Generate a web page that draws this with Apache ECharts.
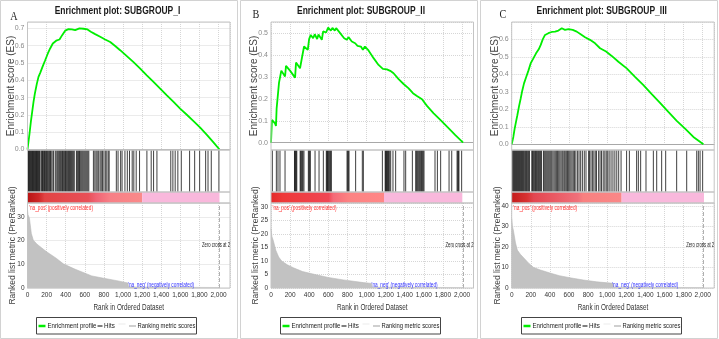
<!DOCTYPE html>
<html>
<head>
<meta charset="utf-8">
<script src="https://cdn.jsdelivr.net/npm/echarts@6.0.0/dist/echarts.min.js"></script>
<style>
  html, body { margin: 0; padding: 0; background: #fff; }
  #chart { width: 719px; height: 339px; }
</style>
</head>
<body>
<div id="chart"></div>
<script>
// ---- data ----
const titles = ['Enrichment plot: SUBGROUP_I', 'Enrichment plot: SUBGROUP_II', 'Enrichment plot: SUBGROUP_III']
const letters = ['A', 'B', 'C']
const legendNames = ['Enrichment profile', 'Hits', 'Ranking metric scores']
const rankMax = 2120

// running enrichment score [rank, ES]
const esA = [[0,0],[21,0.091],[35,0.159],[49,0.217],[63,0.275],[77,0.323],[98,0.381],[115,0.42],[133,0.443],[157,0.478],[185,0.516],[213,0.555],[237,0.584],[265,0.613],[300,0.629],[335,0.636],[363,0.661],[394,0.687],[429,0.696],[464,0.694],[499,0.69],[544,0.7],[586,0.698],[628,0.694],[663,0.681],[708,0.667],[761,0.652],[813,0.636],[866,0.621],[918,0.598],[970,0.574],[1040,0.54],[1110,0.505],[1180,0.468],[1249,0.429],[1319,0.391],[1389,0.352],[1459,0.313],[1529,0.275],[1598,0.236],[1668,0.201],[1738,0.164],[1808,0.126],[1878,0.085],[1947,0.041],[2010,0]]
const esB = [[0,0],[10,0.104],[42,0.088],[52,0.076],[59,0.157],[77,0.149],[84,0.274],[98,0.271],[108,0.329],[147,0.302],[157,0.351],[199,0.329],[252,0.297],[262,0.366],[304,0.34],[325,0.39],[346,0.439],[385,0.424],[399,0.473],[416,0.492],[441,0.477],[458,0.495],[483,0.473],[497,0.494],[532,0.47],[546,0.508],[577,0.503],[598,0.526],[626,0.512],[643,0.524],[668,0.512],[682,0.523],[724,0.5],[766,0.477],[794,0.47],[811,0.482],[846,0.462],[881,0.454],[906,0.442],[941,0.439],[962,0.424],[983,0.439],[1021,0.421],[1074,0.386],[1126,0.355],[1171,0.337],[1213,0.335],[1248,0.328],[1283,0.317],[1336,0.29],[1388,0.268],[1441,0.248],[1486,0.226],[1528,0.213],[1581,0.198],[1633,0.168],[1703,0.134],[1773,0.104],[1843,0.073],[1930,0.035],[2011,0]]
const esC = [[0,0],[17,0.042],[31,0.09],[45,0.128],[59,0.166],[77,0.218],[94,0.262],[108,0.3],[129,0.348],[150,0.382],[175,0.421],[199,0.463],[227,0.491],[255,0.52],[283,0.543],[304,0.568],[325,0.6],[349,0.625],[384,0.635],[419,0.642],[454,0.644],[489,0.65],[524,0.663],[558,0.654],[593,0.658],[639,0.654],[681,0.644],[722,0.629],[768,0.612],[820,0.597],[873,0.577],[925,0.549],[988,0.53],[1047,0.505],[1117,0.472],[1204,0.434],[1291,0.386],[1379,0.338],[1466,0.287],[1553,0.237],[1640,0.185],[1728,0.134],[1815,0.09],[1902,0.042],[2007,0]]

// ranks of gene set members (hits)
const hitsA = [4,10,16,22,28,34,40,46,52,58,64,70,76,82,88,94,100,106,112,118,124,130,143,150,157,164,171,178,186,193,200,208,216,224,232,240,247,258,272,290,300,312,322,332,340,348,358,366,374,382,390,398,406,414,422,430,440,450,460,470,480,490,512,520,528,536,544,552,562,572,582,592,602,612,622,632,642,690,705,718,730,745,760,772,785,800,815,830,845,855,930,948,975,990,1020,1045,1068,1096,1113,1138,1173,1250,1295,1320,1355,1500,1522,1546,1574,1610,1697,1750,1802,1865,1890,1924,2004]
const hitsB = [14,56,73,94,147,246,251,256,265,270,305,311,318,328,335,345,391,398,405,412,461,503,548,579,585,590,596,600,610,618,625,632,796,803,810,817,886,956,967,1166,1195,1200,1206,1211,1218,1224,1230,1242,1253,1277,1305,1392,1410,1480,1515,1522,1532,1541,1550,1558,1567,1576,1585,1594,1602,1717,1742,1776,1864,1892,1948,1955,1962,1968,1996]
const hitsC = [10,17,24,31,38,45,52,59,66,73,80,87,94,101,108,115,122,130,138,146,154,162,170,178,186,210,218,226,234,242,250,258,266,274,282,292,302,312,332,340,350,360,370,380,390,400,410,420,432,444,456,468,480,492,504,516,528,538,550,560,572,584,596,608,620,632,645,658,672,690,705,722,740,760,778,805,815,830,845,860,875,888,910,925,940,958,975,990,1005,1020,1040,1060,1080,1100,1120,1145,1203,1232,1308,1326,1350,1406,1483,1518,1570,1612,1727,1832,1937,1954,1972,1999]

// ranked list metric [rank, score]
const metricA = [[0,33],[5,31],[20,29.5],[40,23],[61,20.2],[100,18.5],[150,16.9],[200,15.3],[300,12.6],[375,10.2],[500,7.9],[673,5.1],[800,4.1],[935,3.1],[1052,2.1],[1058,0.4],[2010,0.2],[2011,0]]
const metricB = [[0,22],[10,19],[24,17.6],[50,14],[80,11.5],[112,10],[170,8.6],[234,7.5],[330,6.1],[461,5],[600,3.9],[757,3],[967,2],[1052,1.7],[1058,0.3],[2010,0.15],[2011,0]]
const metricC = [[0,34],[8,30],[17,28.3],[40,22],[59,18.5],[90,16.5],[130,14.5],[180,12],[230,10],[300,8.8],[401,7.3],[500,6],[610,5],[750,3.9],[890,3],[1060,2.3],[1066,0.4],[2010,0.2],[2011,0]]

// where the red part of the colour bar turns pink, where it ends, zero cross
const bandSplit = [1200, 1183, 1151]
const bandEnd = [2010, 2003, 2013]
const zeroCross = [2010, 2011, 2007]

const esMax = [0.737, 0.551, 0.699]
const metricMax = [35.9, 31.5, 41.5]
const metricStep = [10, 5, 10]

const esData = [esA, esB, esC]
const hitsData = [hitsA, hitsB, hitsC]
const metricData = [metricA, metricB, metricC]

// ---- layout ----
const plotLeft = [27.5, 271, 511.7]
const plotW = 202.5
const esZeroY = [149.5, 142.7, 144.3]
const panelX = [0.5, 240.5, 480.5]
const titleX = [117.5, 361, 601.7]
const letterX = [14, 256, 503]
const letterY = [17, 15, 15]
const esNameX = [11, 254.5, 495]
const metricNameX = [12.5, 256, 497.5]
const legendLeft = [36.5, 280.5, 521.5]

const SANS = '"Liberation Sans", Arial, sans-serif'

const redStops = [
    [[0, '#b81414'], [0.1, '#cf2828'], [0.15, '#e24444'], [0.53, '#e85058'], [0.6, '#f06474'], [0.72, '#f77f86'], [1, '#fa8a8a']],
    [[0, '#e42a2a'], [0.1, '#ee3838'], [0.51, '#f04654'], [0.55, '#f56a78'], [0.69, '#fc8282'], [1, '#ff8787']],
    [[0, '#c41c1c'], [0.14, '#d83232'], [0.2, '#e34650'], [0.6, '#f0707a'], [0.65, '#f88080'], [1, '#fa8888']]
]

const grids = []
const xAxes = []
const yAxes = []
const series = []
const graphic = []

const txt = (x, y, text, font, fill, align, scaleX, rotation) => ({
    type: 'text', silent: true, z: 100, x: x, y: y,
    scaleX: scaleX || 1, rotation: rotation || 0,
    style: { text: text, font: font, fill: fill, align: align, verticalAlign: 'middle' }
})

for (let p = 0; p < 3; p++) {
    const L = plotLeft[p]
    // ES, hits, colour bar, metric
    grids.push({ left: L, top: 22, width: plotW, height: esZeroY[p] - 22 })
    grids.push({ left: L, top: 150, width: plotW, height: 42 })
    grids.push({ left: L, top: 192, width: plotW, height: 11 })
    grids.push({ left: L, top: 203, width: plotW, height: 85 })

    for (let k = 0; k < 4; k++) {
        xAxes.push({
            gridIndex: 4 * p + k,
            type: 'value',
            min: 0,
            max: rankMax,
            interval: 200,
            axisLine: { show: k === 0, lineStyle: { color: '#a8a8a8', width: 1 } },
            axisTick: { show: false },
            axisLabel: k === 3 ? {
                showMaxLabel: false,
                fontSize: 6.5,
                fontFamily: SANS,
                color: '#333',
                margin: 4,
                formatter: v => v.toLocaleString('en-US')
            } : { show: false },
            splitLine: { show: k === 0 || k === 3, lineStyle: { type: 'dotted', color: '#d6d6d6' } }
        })
    }

    yAxes.push({
        gridIndex: 4 * p,
        type: 'value',
        min: 0,
        max: esMax[p],
        interval: 0.1,
        axisLine: { show: false },
        axisTick: { show: false },
        axisLabel: { showMaxLabel: false, fontSize: 7, fontFamily: SANS, color: '#8a8a8a', margin: 3, formatter: v => v.toFixed(1) },
        splitLine: { lineStyle: { type: 'dotted', color: '#d6d6d6' } }
    })
    yAxes.push({ gridIndex: 4 * p + 1, type: 'value', min: 0, max: 1, show: false })
    yAxes.push({ gridIndex: 4 * p + 2, type: 'value', min: 0, max: 1, show: false })
    yAxes.push({
        gridIndex: 4 * p + 3,
        type: 'value',
        min: 0,
        max: metricMax[p],
        interval: metricStep[p],
        axisLine: { show: false },
        axisTick: { show: false },
        axisLabel: { showMaxLabel: false, fontSize: 6.5, fontFamily: SANS, color: '#333', margin: 3 },
        splitLine: { lineStyle: { type: 'dotted', color: '#d6d6d6' } }
    })

    series.push({
        name: legendNames[0],
        type: 'line',
        xAxisIndex: 4 * p,
        yAxisIndex: 4 * p,
        data: esData[p],
        showSymbol: false,
        color: '#00ee00',
        lineStyle: { color: '#00ee00', width: 1.8 },
        z: 5
    })

    series.push({
        name: legendNames[1],
        type: 'custom',
        xAxisIndex: 4 * p + 1,
        yAxisIndex: 4 * p + 1,
        data: hitsData[p].map(r => [r, 0]),
        encode: { x: 0, y: 1 },
        itemStyle: { color: '#444' },
        renderItem: (params, api) => {
            const x = api.coord([api.value(0), 0])[0]
            const cs = params.coordSys
            return {
                type: 'line',
                shape: { x1: x, y1: cs.y, x2: x, y2: cs.y + cs.height },
                style: { stroke: '#111', lineWidth: 1, opacity: 0.8 }
            }
        }
    })

    const stops = redStops[p].map(s => ({ offset: s[0], color: s[1] }))
    series.push({
        name: 'band',
        type: 'custom',
        xAxisIndex: 4 * p + 2,
        yAxisIndex: 4 * p + 2,
        data: [[0, bandSplit[p], 0], [bandSplit[p], bandEnd[p], 0]],
        encode: { x: [0, 1], y: 2 },
        silent: true,
        renderItem: (params, api) => {
            const x0 = api.coord([api.value(0), 0])[0]
            const x1 = api.coord([api.value(1), 0])[0]
            const cs = params.coordSys
            const fill = params.dataIndex === 0
                ? { type: 'linear', x: 0, y: 0, x2: 1, y2: 0, colorStops: stops }
                : '#f9b8dc'
            return {
                type: 'rect',
                shape: { x: x0, y: cs.y, width: x1 - x0, height: cs.height },
                style: { fill: fill }
            }
        }
    })

    series.push({
        name: legendNames[2],
        type: 'line',
        xAxisIndex: 4 * p + 3,
        yAxisIndex: 4 * p + 3,
        data: metricData[p],
        showSymbol: false,
        color: '#cccccc',
        lineStyle: { color: '#b8b8b8', width: 0.6 },
        areaStyle: { color: '#c2c2c2', opacity: 1 },
        markLine: {
            silent: true,
            symbol: 'none',
            label: { show: false },
            lineStyle: { type: 'dashed', color: '#b0b0b0', width: 1 },
            data: [{ xAxis: zeroCross[p] }]
        }
    })

    // panel border and plot frames
    graphic.push({ type: 'rect', silent: true, z: 100, shape: { x: panelX[p], y: 0.5, width: 237, height: 338 }, style: { fill: 'none', stroke: '#d2d2d2', lineWidth: 1 } })
    const frames = [[22, 128], [150, 42], [192, 11], [203, 85]]
    frames.forEach(f => {
        graphic.push({ type: 'rect', silent: true, z: 100, shape: { x: L, y: f[0], width: plotW, height: f[1] }, style: { fill: 'none', stroke: '#c4c4c4', lineWidth: 1 } })
    })

    graphic.push(txt(titleX[p], 11, titles[p], 'bold 11px ' + SANS, '#1a1a1a', 'center', 0.77))
    graphic.push(txt(letterX[p], letterY[p], letters[p], '12px "Liberation Serif", serif', '#222', 'center', 0.85))
    graphic.push(txt(esNameX[p], 86, 'Enrichment score (ES)', '10px ' + SANS, '#444', 'center', 1, Math.PI / 2))
    graphic.push(txt(metricNameX[p], 245.5, 'Ranked list metric (PreRanked)', '8.5px ' + SANS, '#444', 'center', 1, Math.PI / 2))
    graphic.push(txt(L + plotW / 2, 308, 'Rank in Ordered Dataset', '8.5px ' + SANS, '#333', 'center', 0.75))
    graphic.push(txt(L + 1.5, 207.7, "'na_pos' (positively correlated)", '7px ' + SANS, '#ff3030', 'left', 0.68))
    graphic.push(txt(L + 100.5, 285, "'na_neg' (negatively correlated)", '7px ' + SANS, '#3030ff', 'left', 0.68))
    graphic.push(txt(L + 174.5, 245.5, 'Zero cross at 2', '7px ' + SANS, '#222', 'left', 0.6))

    // legend box
    const g = legendLeft[p]
    graphic.push({ type: 'rect', silent: true, z: 100, shape: { x: g, y: 317.5, width: 160, height: 16.5 }, style: { fill: '#fff', stroke: '#444', lineWidth: 1 } })
    graphic.push({ type: 'line', silent: true, z: 101, shape: { x1: g + 2, y1: 326, x2: g + 9, y2: 326 }, style: { stroke: '#00ee00', lineWidth: 2.5 } })
    graphic.push(txt(g + 11, 326, legendNames[0], '7.5px ' + SANS, '#222', 'left', 0.81))
    graphic.push({ type: 'line', silent: true, z: 101, shape: { x1: g + 61, y1: 326, x2: g + 66, y2: 326 }, style: { stroke: '#555', lineWidth: 1.5 } })
    graphic.push(txt(g + 67.6, 326, legendNames[1], '7.5px ' + SANS, '#222', 'left', 0.83))
    graphic.push({ type: 'line', silent: true, z: 101, shape: { x1: g + 82, y1: 324, x2: g + 89, y2: 324 }, style: { stroke: '#f2f2f2', lineWidth: 1.5 } })
    graphic.push({ type: 'line', silent: true, z: 101, shape: { x1: g + 92.5, y1: 326, x2: g + 99.5, y2: 326 }, style: { stroke: '#cfcfcf', lineWidth: 2 } })
    graphic.push(txt(g + 101, 326, legendNames[2], '7.5px ' + SANS, '#222', 'left', 0.78))
}

const myChart = echarts.init(document.getElementById('chart'), null, { renderer: 'canvas' })
myChart.setOption({
    animation: false,
    backgroundColor: '#fff',
    grid: grids,
    xAxis: xAxes,
    yAxis: yAxes,
    series: series,
    graphic: graphic
})
</script>
</body>
</html>
